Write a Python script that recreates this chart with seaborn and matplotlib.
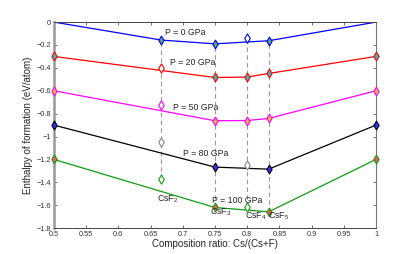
import seaborn as sns
import matplotlib
matplotlib.use('Agg')
import matplotlib.pyplot as plt
import pandas as pd

# composition points Cs/(Cs+F)
ratio = [0.5, 2 / 3, 0.75, 0.8, 5 / 6, 1.0]
pressures = ['P = 0 GPa', 'P = 20 GPa', 'P = 50 GPa', 'P = 80 GPa', 'P = 100 GPa']

h_0 = [0.0, -0.157, -0.19, -0.143, -0.163, 0.0]
h_20 = [-0.3, -0.405, -0.484, -0.48, -0.449, -0.3]
h_50 = [-0.6, -0.725, -0.862, -0.86, -0.842, -0.6]
h_80 = [-0.9, -1.046, -1.267, -1.25, -1.285, -0.9]
h_100 = [-1.2, -1.372, -1.62, -1.614, -1.658, -1.2]

# which points sit on the convex hull
hull_0 = [True, True, True, False, True, True]
hull_20 = [True, False, True, True, True, True]
hull_50 = [True, False, True, True, True, True]
hull_80 = [True, False, True, False, True, True]
hull_100 = [True, False, True, False, True, True]

# the 0 GPa end members carry no marker
marked_0 = [False, True, True, True, True, False]

phase_labels = ['CsF$_2$', 'CsF$_3$', 'CsF$_4$', 'CsF$_5$']
phase_x = [2 / 3, 0.75, 0.8, 5 / 6]

rows = []
all_marked = [marked_0] + [[True] * len(ratio)] * 4
for p, h, hull, mk in zip(pressures, [h_0, h_20, h_50, h_80, h_100],
                          [hull_0, hull_20, hull_50, hull_80, hull_100], all_marked):
    for x, y, on, m in zip(ratio, h, hull, mk):
        rows.append({'ratio': x, 'H': y, 'P': p, 'hull': on, 'marked': m})
df = pd.DataFrame(rows)

line_colors = ['#0000ff', '#ff0000', '#ff00ff', '#000000', '#109c10']
face_colors = ['#55aa66', '#33bbbb', '#ddbb33', '#3333ff', '#ff5555']
open_colors = ['#0000ff', '#ff0000', '#ff00ff', '#888888', '#109c10']

sns.set_style('ticks')
plt.rcParams['font.family'] = ['Liberation Sans', 'DejaVu Sans']
plt.rcParams['mathtext.fontset'] = 'custom'
plt.rcParams['mathtext.rm'] = 'Liberation Sans'
plt.rcParams['mathtext.default'] = 'regular'

fig = plt.figure(figsize=(4.15, 2.54), dpi=100)
ax = fig.add_axes([0.130, 0.102, 0.776, 0.811])

# dashed guides at each compound
guide = df[df['ratio'].isin(phase_x)].groupby('ratio')['H']
ax.vlines(guide.max().index, guide.min().values, guide.max().values,
          colors='#999999', linestyles=(0, (4, 3)), linewidth=0.8, zorder=1)

hull_df = df[df['hull']]
sns.lineplot(data=hull_df, x='ratio', y='H', hue='P', palette=line_colors,
             linewidth=0.9, legend=False, ax=ax, zorder=2, sort=True)

for i, p in enumerate(pressures):
    sub = df[(df['P'] == p) & df['marked']]
    sns.scatterplot(data=sub[sub['hull']], x='ratio', y='H', marker='d', s=20,
                    color=face_colors[i], edgecolor=line_colors[i],
                    linewidth=0.8, legend=False, ax=ax, zorder=3, clip_on=False)
    sns.scatterplot(data=sub[~sub['hull']], x='ratio', y='H', marker='d', s=22,
                    color='white', edgecolor=open_colors[i],
                    linewidth=0.8, legend=False, ax=ax, zorder=3, clip_on=False)

label_pos = [(0.672, -0.09), (0.68, -0.356), (0.685, -0.75), (0.70, -1.15), (0.745, -1.556)]
for p, (tx, ty) in zip(pressures, label_pos):
    ax.text(tx, ty, p, fontsize=6.3, ha='left', va='center')

phase_text_x = [0.660, 0.743, 0.797, 0.832]
phase_text_y = [-1.55, -1.66, -1.70, -1.70]
for lab, px, py in zip(phase_labels, phase_text_x, phase_text_y):
    ax.text(px, py, lab, fontsize=6.3, ha='left', va='center')

ax.set_xlim(0.5, 1.0)
ax.set_ylim(-1.8, 0)
ax.set_xticks([0.5 + 0.05 * k for k in range(11)])
ax.set_yticks([-0.2 * k for k in range(10)])
ax.xaxis.set_major_formatter(matplotlib.ticker.FormatStrFormatter('%g'))
ax.yaxis.set_major_formatter(
    matplotlib.ticker.FuncFormatter(lambda v, _: '0' if abs(v) < 1e-9 else '\u2212%g' % round(-v, 2)))
ax.tick_params(direction='in', length=2.5, width=0.5, labelsize=5.3, top=True, right=True,
               colors='#333333', pad=2)
ax.set_xlabel('Composition ratio: Cs/(Cs+F)', fontsize=7, labelpad=1)
ax.set_ylabel('Enthalpy of formation (eV/atom)', fontsize=7, labelpad=3)

for side in ['top', 'bottom']:
    ax.spines[side].set_color('#444444')
    ax.spines[side].set_linewidth(0.7)
ax.spines['left'].set_color('#999999')
ax.spines['left'].set_linewidth(1.8)
ax.spines['right'].set_color('#777777')
ax.spines['right'].set_linewidth(0.8)

fig.savefig('out.png', dpi=100)
